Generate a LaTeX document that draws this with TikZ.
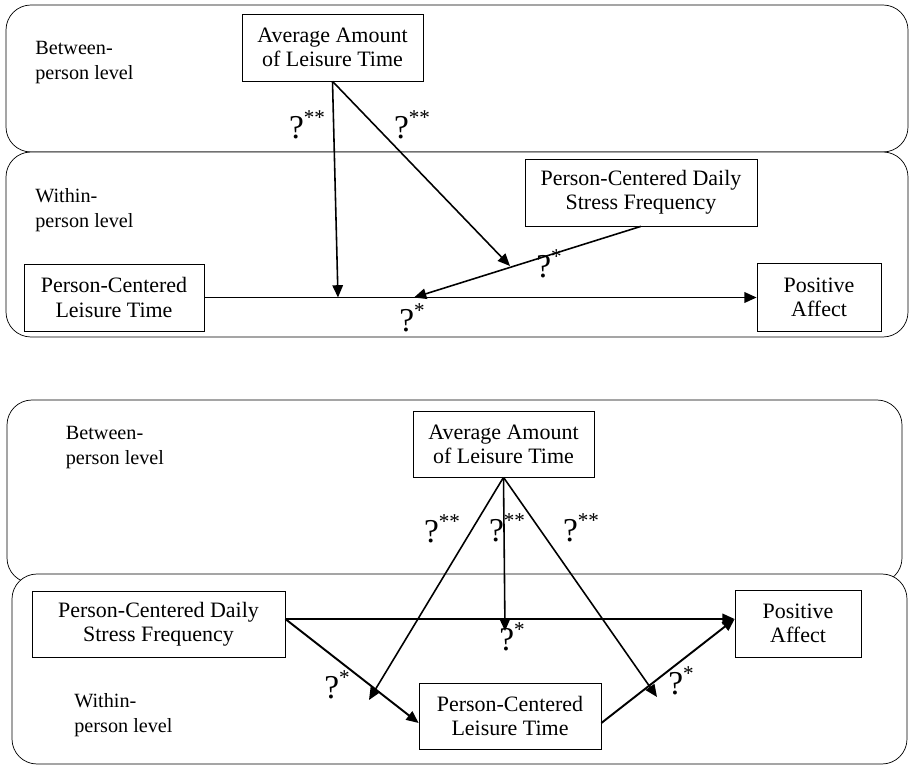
\documentclass[tikz,border=0pt]{standalone}
\usepackage{fontspec}
\setmainfont{Liberation Serif}
\usetikzlibrary{arrows.meta}
\newcommand{\coef}[1]{{\fontsize{19}{19}\selectfont ?}\raisebox{8pt}{\fontsize{12}{12}\selectfont #1}}
\begin{document}
\begin{tikzpicture}[>={Triangle[length=7pt,width=6pt]},
    panel/.style={draw, rounded corners=0.5cm, fill=white},
    box/.style={draw, align=center, inner sep=2pt, font=\fontsize{12.5}{13.8}\selectfont},
    lvl/.style={anchor=west, align=left, inner sep=0pt, font=\fontsize{11.5}{14.2}\selectfont},
    coefnode/.style={inner sep=0pt},
    main/.style={line width=1.1pt,->},
    mod/.style={line width=0.9pt,->}]
  \useasboundingbox (0,0) rectangle (18.18,15.32);
  % first model
  \draw[panel] (0.12,12.28) rectangle (18.16,15.22);
  \draw[panel] (0.12,8.58) rectangle (18.16,12.28);
  \node[lvl] (betweenA) at (0.70,14.07) {Between-\\person level};
  \node[lvl] (withinA) at (0.70,11.12) {Within-\\person level};
  \node[box, minimum width=3.62cm, minimum height=1.34cm] (avgA) at (6.65,14.37) {Average Amount\\of Leisure Time};
  \node[box, minimum width=4.64cm, minimum height=1.34cm] (stressA) at (12.82,11.47) {Person-Centered Daily\\Stress Frequency};
  \node[box, minimum width=3.60cm, minimum height=1.34cm] (leisA) at (2.28,9.37) {Person-Centered\\Leisure Time};
  \node[box, minimum width=2.48cm, minimum height=1.36cm] (posA) at (16.38,9.37) {Positive\\Affect};
  \coordinate (m1) at (6.76,9.37);
  \coordinate (m2) at (10.20,10.00);
  \coordinate (m3) at (8.28,9.37);
  \draw[main] (leisA.east) -- (posA.west);
  \draw[mod] (avgA.south) -- (m1);
  \draw[mod] (avgA.south) -- (m2);
  \draw[mod] (stressA.south) -- (m3);
  \node[coefnode] (cA1) at (6.14,12.82) {\coef{**}};
  \node[coefnode] (cA2) at (8.24,12.82) {\coef{**}};
  \node[coefnode] (cA3) at (10.98,10.04) {\coef{*}};
  \node[coefnode] (cA4) at (8.24,8.96) {\coef{*}};
  % second model
  \draw[panel] (0.14,3.66) rectangle (18.04,7.32);
  \draw[panel] (0.24,0.04) rectangle (18.14,3.84);
  \node[lvl] (betweenB) at (1.31,6.37) {Between-\\person level};
  \node[lvl] (withinB) at (1.48,1.01) {Within-\\person level};
  \node[box, minimum width=3.62cm, minimum height=1.32cm] (avgB) at (10.07,6.44) {Average Amount\\of Leisure Time};
  \node[box, minimum width=5.06cm, minimum height=1.32cm] (stressB) at (3.17,2.83) {Person-Centered Daily\\Stress Frequency};
  \node[box, minimum width=2.52cm, minimum height=1.34cm] (posB) at (15.96,2.85) {Positive\\Affect};
  \node[box, minimum width=3.64cm, minimum height=1.32cm] (leisB) at (10.20,1.00) {Person-Centered\\Leisure Time};
  \coordinate (sB) at ([yshift=0.11cm]stressB.east);
  \coordinate (pB) at ([yshift=0.09cm]posB.west);
  \coordinate (lB1) at ([yshift=-0.14cm]leisB.west);
  \coordinate (lB2) at ([yshift=-0.14cm]leisB.east);
  \coordinate (mB1) at (7.38,1.32);
  \coordinate (mB2) at (10.10,2.70);
  \coordinate (mB3) at (13.14,1.38);
  \draw[main] (sB) -- (pB);
  \draw[main] (sB) -- (lB1);
  \draw[main] (lB2) -- (pB);
  \draw[mod] (avgB.south) -- (mB1);
  \draw[mod] (avgB.south) -- (mB2);
  \draw[mod] (avgB.south) -- (mB3);
  \node[coefnode] (cB1) at (8.84,4.74) {\coef{**}};
  \node[coefnode] (cB2) at (10.14,4.76) {\coef{**}};
  \node[coefnode] (cB3) at (11.62,4.76) {\coef{**}};
  \node[coefnode] (cB4) at (10.24,2.58) {\coef{*}};
  \node[coefnode] (cB5) at (6.74,1.62) {\coef{*}};
  \node[coefnode] (cB6) at (13.62,1.70) {\coef{*}};
\end{tikzpicture}
\end{document}
